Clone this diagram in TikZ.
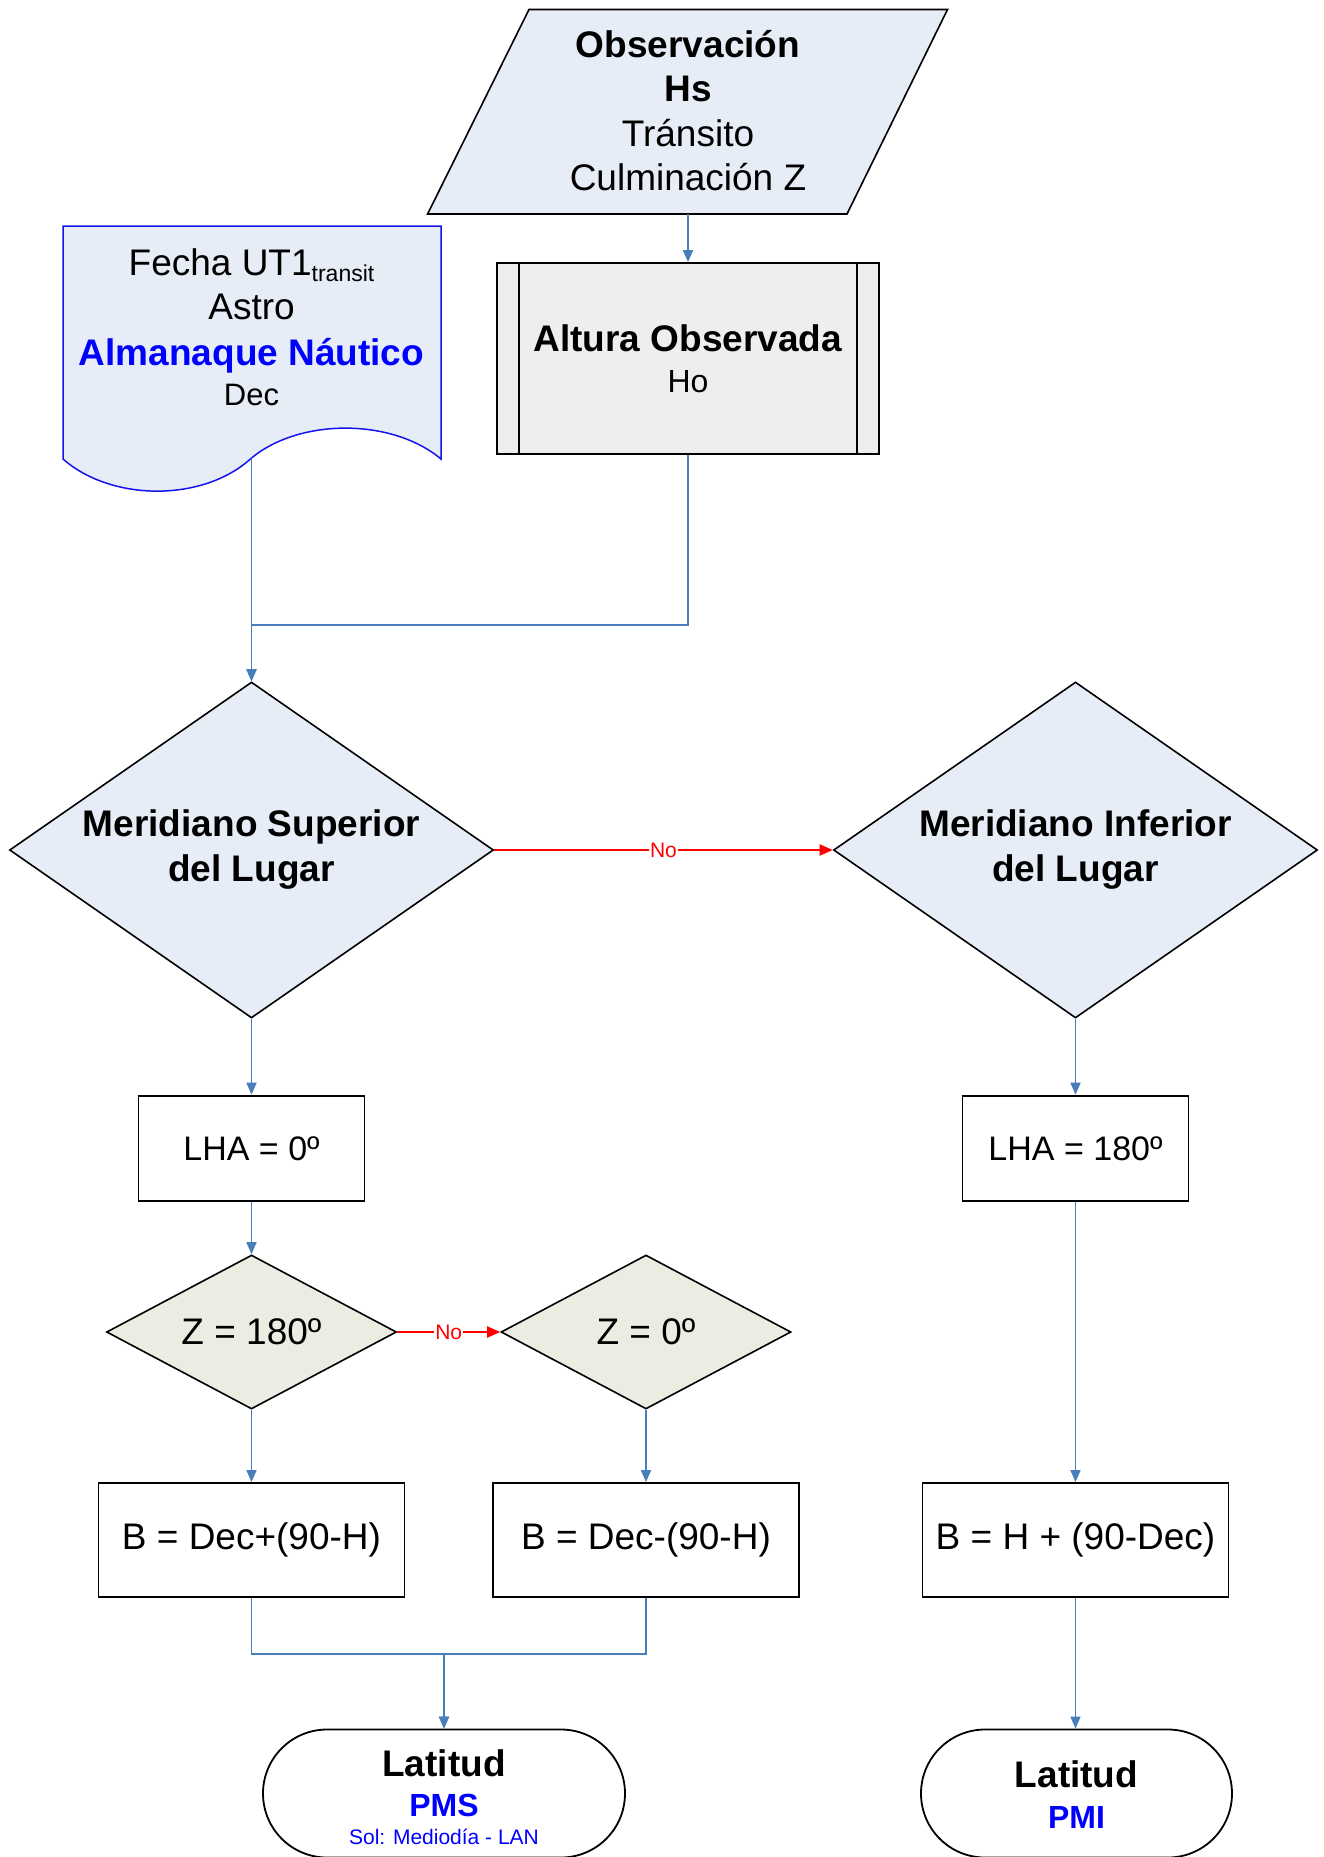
\documentclass[tikz,border=0pt]{standalone}
\usepackage{fontspec}
\setmainfont{Liberation Sans}
\usetikzlibrary{shapes.geometric,arrows.meta,calc,backgrounds}
\definecolor{lblue}{HTML}{E7EDF7}
\definecolor{lgrey}{HTML}{EEEEEE}
\definecolor{lbeige}{HTML}{ECEDE2}
\definecolor{connblue}{HTML}{4A7EBB}
\definecolor{txtblue}{HTML}{0000FF}
\definecolor{docblue}{HTML}{1414F0}
\newcommand{\myfs}[2]{\fontsize{#1}{#2}\selectfont}
\tikzset{
  conn/.style={draw=connblue, line width=1.6pt, -{Triangle[length=12pt,width=10pt]}},
  rconn/.style={draw=red, line width=2pt, -{Triangle[length=13pt,width=11pt]}},
  nolabel/.style={fill=white, inner sep=1pt, text=red, font=\myfs{21}{21}},
  box/.style={rectangle, draw=black, line width=1.8pt, fill=white, inner sep=0pt, align=center},
  decone/.style={diamond, draw=black, line width=1.6pt, fill=lblue, inner sep=0pt},
  dectwo/.style={diamond, draw=black, line width=1.6pt, fill=lbeige, inner sep=0pt},
  term/.style={rectangle, rounded corners=64pt, draw=black, line width=1.8pt, fill=white, minimum height=128pt, inner sep=0pt},
  lbl/.style={align=center, inner sep=0pt},
}
\begin{document}
\begin{tikzpicture}[x=1pt,y=-1pt]
\useasboundingbox (0,0) rectangle (1323,1857);

% Observacion (parallelogram)
\draw[line width=1.6pt, fill=lblue] (529,9.5) -- (947.5,9.5) -- (847,214) -- (427.6,214) -- cycle;
\coordinate (obsb) at (688,214);
\node[lbl, font=\myfs{37}{44.4}] (obs) at (688,110.5) {\textbf{Observación}\\\textbf{Hs}\\Tránsito\\Culminación Z};

% Document
\draw[draw=docblue, line width=1.5pt, fill=lblue] (63,226) -- (441,226) -- (441,459)
  .. controls (392,418) and (300,418) .. (251.5,458)
  .. controls (204,502) and (112,502) .. (63,459) -- cycle;
\coordinate (docb) at (251.5,458);
\node[lbl, font=\myfs{37}{46}] (doc) at (251.5,327) {Fecha UT1\raisebox{-6pt}{\myfs{23}{23}transit}\\[-2pt]Astro\\{\bfseries\color{txtblue}Almanaque Náutico}\\[-6pt]{\myfs{31}{37}Dec}};

% Altura Observada (predefined process)
\node[box, fill=lgrey, minimum width=381.5pt, minimum height=190.6pt, font=\myfs{37}{41}] (alt) at (688,358.3) {\textbf{Altura Observada}\\{\myfs{32}{37}Ho}};
\draw[line width=1.8pt] ($(alt.north west)+(22.5,0)$) -- ($(alt.south west)+(22.5,0)$);
\draw[line width=1.8pt] ($(alt.north east)-(22.5,0)$) -- ($(alt.south east)-(22.5,0)$);

% Meridiano diamonds
\node[decone, minimum width=484pt, minimum height=336pt] (d1) at (251.5,850) {};
\node[lbl, font=\bfseries\myfs{37}{45}] (d1t) at (d1) {Meridiano Superior\\del Lugar};
\node[decone, minimum width=484pt, minimum height=336pt] (d2) at (1075.5,850) {};
\node[lbl, font=\bfseries\myfs{37}{45}] (d2t) at (d2) {Meridiano Inferior\\del Lugar};

% LHA boxes
\node[box, minimum width=226pt, minimum height=105.4pt, font=\myfs{34}{40}] (lha0) at (251.5,1148.3) {LHA = 0º};
\node[box, minimum width=226pt, minimum height=105.4pt, font=\myfs{34}{40}] (lha180) at (1075.5,1148.3) {LHA = 180º};

% Z diamonds
\node[dectwo, minimum width=290pt, minimum height=154pt] (z180) at (251.5,1332) {};
\node[lbl, font=\myfs{37}{44}] (z180t) at (z180) {Z = 180º};
\node[dectwo, minimum width=290pt, minimum height=154pt] (z0) at (646,1332) {};
\node[lbl, font=\myfs{37}{44}] (z0t) at (z0) {Z = 0º};

% B boxes
\node[box, minimum width=306pt, minimum height=114pt, font=\myfs{37}{44}] (b1) at (251.5,1540) {B = Dec+(90-H)};
\node[box, minimum width=306pt, minimum height=114pt, font=\myfs{37}{44}] (b2) at (646,1540) {B = Dec-(90-H)};
\node[box, minimum width=306pt, minimum height=114pt, font=\myfs{37}{44}] (b3) at (1075.5,1540) {B = H + (90-Dec)};

% Terminals
\node[term, minimum width=362pt] (t1) at (444,1793.5) {};
\node[lbl, font=\myfs{37}{40.5}] (t1t) at (444,1797) {\textbf{Latitud}\\{\bfseries\color{txtblue}\myfs{32}{37}PMS}\\[-12.5pt]{\myfs{21}{21}\color{txtblue}Sol: Mediodía - LAN}};
\node[term, minimum width=311pt] (t2) at (1076.5,1793.5) {};
\node[lbl, font=\myfs{37}{40.5}] (t2t) at (1076.5,1794.7) {\textbf{Latitud}\\{\bfseries\color{txtblue}\myfs{32}{37}PMI}};

% Connectors
\draw[conn] (obsb) -- (alt.north);
\draw[conn] (docb) -- (d1.north);
\draw[conn] (alt.south) -- ++(0,170.4) -| (d1.north);
\draw[conn] (d1.south) -- (lha0.north);
\draw[rconn] (d1.east) -- node[nolabel] (no1) {No} (d2.west);
\draw[conn] (d2.south) -- (lha180.north);
\draw[conn] (lha0.south) -- (z180.north);
\draw[rconn] (z180.east) -- node[nolabel] (no2) {No} (z0.west);
\draw[conn] (z180.south) -- (b1.north);
\draw[conn] (z0.south) -- (b2.north);
\draw[conn] (lha180.south) -- (b3.north);
\draw[conn] (b1.south) -- ++(0,56) -| (t1.north);
\draw[conn] (b2.south) -- ++(0,56) -| (t1.north);
\draw[conn] (b3.south) -- (t2.north -| b3.south);
\end{tikzpicture}
\end{document}
